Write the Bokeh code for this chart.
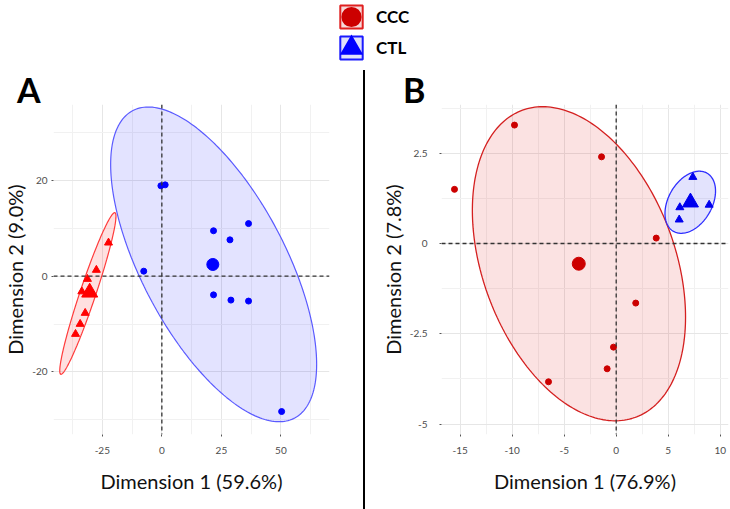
import numpy as np
from bokeh.plotting import figure
from bokeh.models import Range1d, FixedTicker, Span, Legend, LegendItem, Div
from bokeh.layouts import row, column
from bokeh.embed import file_html
from bokeh.resources import INLINE
from bokeh.core.properties import value

# ---------------- data ----------------
# Panel A
a_tri_x = [-22.4, -27.5, -31.25, -33.6, -32.2, -34.3, -36.25]
a_tri_y = [7.0, 1.3, -0.6, -3.2, -7.7, -10.0, -12.1]
a_tri_centroid_x = [-30.3]
a_tri_centroid_y = [-3.4]
a_circ_x = [-0.4, 1.4, 21.7, 36.4, 28.6, -7.6, 21.7, 29.0, 36.4, 50.3]
a_circ_y = [18.9, 19.1, 9.5, 11.0, 7.6, 1.05, -3.9, -5.0, -5.2, -28.3]
a_circ_centroid_x = [21.4]
a_circ_centroid_y = [2.45]
# ellipse spread: (x half-extent, y half-extent, correlation)
a_tri_ellipse = (11.8, 16.9, 0.955)
a_circ_ellipse = (43.25, 32.9, -0.635)
a_xticks = [-25, 0, 25, 50]
a_yticks = [-20, 0, 20]

# Panel B
b_circ_x = [-15.55, -9.78, -1.41, 3.85, 1.88, -0.26, -0.87, -6.51]
b_circ_y = [1.50, 3.28, 2.40, 0.15, -1.65, -2.87, -3.47, -3.83]
b_circ_centroid_x = [-3.6]
b_circ_centroid_y = [-0.56]
b_tri_x = [7.37, 6.12, 8.94, 6.06]
b_tri_y = [1.84, 1.00, 1.07, 0.66]
b_tri_centroid_x = [7.14]
b_tri_centroid_y = [1.14]
b_circ_ellipse = (10.25, 4.35, -0.34)
b_tri_ellipse = (2.43, 0.86, 0.36)
b_xticks = [-15, -10, -5, 0, 5, 10]
b_yticks = [-5, -2.5, 0, 2.5]

legend_labels = ["CCC", "CTL"]
panel_tags = ["A", "B"]
a_xlabel = "Dimension 1 (59.6%)"
a_ylabel = "Dimension 2 (9.0%)"
b_xlabel = "Dimension 1 (76.9%)"
b_ylabel = "Dimension 2 (7.8%)"

FONT = "Lato"
RED_A, BLUE_A = "#ff0000", "#0000ff"
RED_B, BLUE_B = "#cc0000", "#0000ee"

W_A, W_SEP, W_B = 363, 2, 365
LEG_H = 70
TAG_H = 34
PANEL_H = 405


def ellipse(xs, ys, params, n=240):
    cx, cy = float(np.mean(xs)), float(np.mean(ys))
    sx, sy, rho = params
    t = np.linspace(0, 2 * np.pi, n)
    ex = cx + sx * np.cos(t)
    ey = cy + sy * (rho * np.cos(t) + np.sqrt(1 - rho ** 2) * np.sin(t))
    return list(ex), list(ey)


def fmt(v):
    return ("%g" % v)


def minor_of(ticks, lo, hi):
    step = ticks[1] - ticks[0]
    m = []
    v = ticks[0] - step / 2
    while v >= lo:
        m.append(v)
        v -= step
    v = ticks[0] + step / 2
    while v <= hi:
        m.append(v)
        v += step
    return sorted(m)


def make_panel(width, xr, yr, xticks, yticks, xlabel, ylabel, min_left, min_right,
               ylab_standoff):
    p = figure(width=width, height=PANEL_H, x_range=Range1d(*xr), y_range=Range1d(*yr),
               output_backend="svg", toolbar_location=None,
               min_border_top=0, min_border_bottom=75,
               min_border_left=min_left, min_border_right=min_right)
    p.outline_line_color = None
    p.background_fill_color = "white"
    p.border_fill_color = "white"
    p.xaxis.ticker = FixedTicker(ticks=xticks, minor_ticks=minor_of(xticks, *xr))
    p.yaxis.ticker = FixedTicker(ticks=yticks, minor_ticks=minor_of(yticks, *yr))
    p.xaxis.major_label_overrides = {t: fmt(t) for t in xticks}
    p.yaxis.major_label_overrides = {t: fmt(t) for t in yticks}
    for ax in (p.xaxis[0], p.yaxis[0]):
        ax.axis_line_color = None
        ax.major_tick_line_color = "#555555"
        ax.major_tick_out = 2
        ax.major_tick_in = 0
        ax.minor_tick_line_color = None
        ax.major_label_text_font = FONT
        ax.major_label_text_font_size = "10px"
        ax.major_label_text_color = "#4d4d4d"
        ax.axis_label_text_font = FONT
        ax.axis_label_text_font_size = "20px"
        ax.axis_label_text_font_style = "normal"
        ax.axis_label_text_color = "#111111"
    p.xaxis.axis_label = xlabel
    p.yaxis.axis_label = ylabel
    p.xaxis.major_label_standoff = 8
    p.xaxis.axis_label_standoff = 12
    p.yaxis.major_label_standoff = ylab_standoff
    p.yaxis.axis_label_standoff = 2
    for g in (p.xgrid[0], p.ygrid[0]):
        g.grid_line_color = "#e6e6e6"
        g.grid_line_width = 1
        g.minor_grid_line_color = "#f1f1f1"
        g.minor_grid_line_width = 1
    p.add_layout(Span(location=0, dimension="height", line_color="#333333",
                      line_dash="4 3", line_width=1.3))
    p.add_layout(Span(location=0, dimension="width", line_color="#333333",
                      line_dash="4 3", line_width=1.3))
    return p


# ---------------- Panel A ----------------
pA = make_panel(W_A, (-45.5, 70.4), (-33.1, 35.9), a_xticks, a_yticks,
                a_xlabel, a_ylabel, 40, 34, 2)
ex, ey = ellipse(a_tri_x, a_tri_y, a_tri_ellipse)
pA.patch(ex, ey, fill_color=RED_A, fill_alpha=0.12, line_color="#ff3b3b", line_width=1.2)
ex, ey = ellipse(a_circ_x, a_circ_y, a_circ_ellipse)
pA.patch(ex, ey, fill_color=BLUE_A, fill_alpha=0.11, line_color="#5a5aff", line_width=1.2)
pA.scatter(a_tri_x, a_tri_y, marker="triangle", size=8, color=RED_A)
pA.scatter(a_tri_centroid_x, a_tri_centroid_y, marker="triangle", size=16, color=RED_A)
pA.scatter(a_circ_x, a_circ_y, marker="circle", size=6, color=BLUE_A)
pA.scatter(a_circ_centroid_x, a_circ_centroid_y, marker="circle", size=12, color=BLUE_A)

# ---------------- Panel B ----------------
pB = make_panel(W_B, (-16.8, 10.8), (-5.29, 3.85), b_xticks, b_yticks,
                b_xlabel, b_ylabel, 76, 2, 10)
ex, ey = ellipse(b_circ_x, b_circ_y, b_circ_ellipse)
pB.patch(ex, ey, fill_color="#dd1111", fill_alpha=0.12, line_color="#d42020", line_width=1.3)
ex, ey = ellipse(b_tri_x, b_tri_y, b_tri_ellipse)
pB.patch(ex, ey, fill_color=BLUE_B, fill_alpha=0.11, line_color="#2f2fff", line_width=1.3)
pB.scatter(b_circ_x, b_circ_y, marker="circle", size=6, color=RED_B)
pB.scatter(b_circ_centroid_x, b_circ_centroid_y, marker="circle", size=13, color=RED_B)
pB.scatter(b_tri_x, b_tri_y, marker="triangle", size=8, color=BLUE_B)
pB.scatter(b_tri_centroid_x, b_tri_centroid_y, marker="triangle", size=16, color=BLUE_B)


# ---------------- panel tags row ----------------
def tag(text, width, pad):
    html = ('<div style="font-family: Lato, sans-serif; font-weight: 700; font-size: 34px; '
            'line-height: %dpx; padding-left: %dpx; color: #000; position: relative; '
            'top: 3px; margin: 0;">%s</div>' % (TAG_H, pad, text))
    return Div(text=html, width=width, height=TAG_H, margin=0,
               styles={"overflow": "visible"})


tagA = tag(panel_tags[0], W_A, 17)
tagB = tag(panel_tags[1], W_B, 38)

# ---------------- Legend strip ----------------
# legend renderers reuse panel B's groups; the strip's ranges keep them out of view
leg = figure(width=W_A + W_SEP + W_B, height=LEG_H, x_range=Range1d(1000, 1001),
             y_range=Range1d(1000, 1001),
             output_backend="svg", toolbar_location=None, min_border=0)
leg.axis.visible = False
leg.grid.visible = False
leg.outline_line_color = None
ex, ey = ellipse(b_circ_x, b_circ_y, b_circ_ellipse)
k1 = leg.patch(ex, ey, fill_color="#f7dada", line_color="#e02020", line_width=2)
m1 = leg.scatter(b_circ_x, b_circ_y, marker="circle", size=10, fill_color=RED_B,
                 line_color=RED_B, line_width=9)
ex, ey = ellipse(b_tri_x, b_tri_y, b_tri_ellipse)
k2 = leg.patch(ex, ey, fill_color="#e0e0fa", line_color="#1a1aff", line_width=2)
m2 = leg.scatter(b_tri_x, b_tri_y, marker="triangle", size=10, fill_color="#0000ff",
                 line_color="#0000ff", line_width=7, line_join="miter")
legend = Legend(items=[LegendItem(label=value(legend_labels[0]), renderers=[k1, m1]),
                       LegendItem(label=value(legend_labels[1]), renderers=[k2, m2])],
                location=(337, 8), orientation="vertical", glyph_width=28, glyph_height=29,
                label_standoff=11, spacing=2, padding=0, margin=0,
                border_line_color=None, background_fill_alpha=0,
                label_text_font=FONT, label_text_font_size="17px",
                label_text_font_style="bold", label_text_color="black", label_height=29)
leg.add_layout(legend)

sep1 = Div(width=W_SEP, height=TAG_H, margin=0, styles={"background-color": "black"})
sep2 = Div(width=W_SEP, height=PANEL_H, margin=0, styles={"background-color": "black"})

layout = column(leg, row(tagA, sep1, tagB, spacing=0), row(pA, sep2, pB, spacing=0),
                spacing=0)
open("out.html", "w").write(file_html(layout, INLINE))
